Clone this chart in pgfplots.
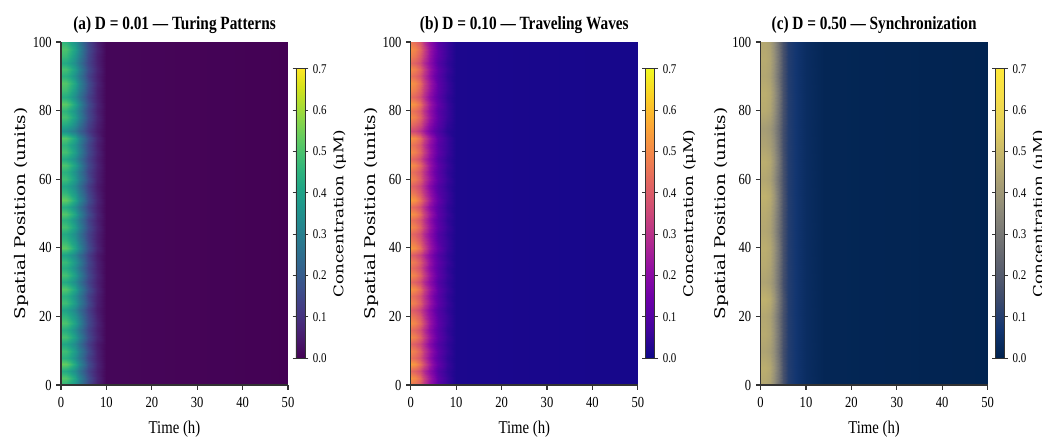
\documentclass[border=0pt]{standalone}
\usepackage{fontspec}
\setmainfont{Liberation Serif}[FakeStretch=0.82]
\newfontfamily\vlabel{DejaVu Serif}[FakeStretch=1.25]
\usepackage{pgfplots}
\pgfplotsset{compat=1.18}
\usepackage{pgfplotstable}

\pgfplotsset{
  colormap={plasma}{rgb255=(13,8,135) rgb255=(65,4,157) rgb255=(106,0,168) rgb255=(143,13,164)
    rgb255=(177,42,144) rgb255=(204,71,120) rgb255=(225,100,98) rgb255=(242,132,75)
    rgb255=(252,166,54) rgb255=(252,206,37) rgb255=(240,249,33)},
  colormap={cividis}{rgb255=(0,34,78) rgb255=(18,53,112) rgb255=(59,73,108) rgb255=(87,93,109)
    rgb255=(112,113,115) rgb255=(138,135,121) rgb255=(166,157,117) rgb255=(196,181,108)
    rgb255=(228,207,91) rgb255=(245,221,74) rgb255=(254,232,56)},
}

% panel (a): t y c, one scanline per y
\pgfplotstableread[row sep=\\]{
t y c\\
0 0 .46\\1 0 .45\\2 0 .41\\3 0 .36\\4 0 .29\\5 0 .21\\6 0 .15\\8 0 .06\\10 0 .01\\50 0 0\\
0 2 .52\\1 2 .51\\2 2 .47\\3 2 .41\\4 2 .32\\5 2 .24\\6 2 .17\\8 2 .07\\10 2 .01\\50 2 0\\
0 4 .43\\1 4 .42\\2 4 .39\\3 4 .34\\4 4 .27\\5 4 .20\\6 4 .14\\8 4 .06\\10 4 .01\\50 4 0\\
0 6 .54\\1 6 .53\\2 6 .49\\3 6 .42\\4 6 .33\\5 6 .25\\6 6 .17\\8 6 .07\\10 6 .01\\50 6 0\\
0 8 .45\\1 8 .44\\2 8 .41\\3 8 .35\\4 8 .28\\5 8 .21\\6 8 .14\\8 8 .06\\10 8 .01\\50 8 0\\
0 10 .49\\1 10 .48\\2 10 .44\\3 10 .38\\4 10 .30\\5 10 .23\\6 10 .16\\8 10 .06\\10 10 .01\\50 10 0\\
0 12 .42\\1 12 .41\\2 12 .38\\3 12 .33\\4 12 .26\\5 12 .19\\6 12 .13\\8 12 .05\\10 12 .01\\50 12 0\\
0 14 .50\\1 14 .49\\2 14 .45\\3 14 .39\\4 14 .31\\5 14 .23\\6 14 .16\\8 14 .07\\10 14 .01\\50 14 0\\
0 16 .44\\1 16 .43\\2 16 .40\\3 16 .34\\4 16 .27\\5 16 .20\\6 16 .14\\8 16 .06\\10 16 .01\\50 16 0\\
0 18 .51\\1 18 .50\\2 18 .46\\3 18 .40\\4 18 .32\\5 18 .23\\6 18 .16\\8 18 .07\\10 18 .01\\50 18 0\\
0 20 .46\\1 20 .45\\2 20 .41\\3 20 .36\\4 20 .29\\5 20 .21\\6 20 .15\\8 20 .06\\10 20 .01\\50 20 0\\
0 22 .41\\1 22 .40\\2 22 .37\\3 22 .32\\4 22 .25\\5 22 .19\\6 22 .13\\8 22 .05\\10 22 .01\\50 22 0\\
0 24 .49\\1 24 .48\\2 24 .44\\3 24 .38\\4 24 .30\\5 24 .23\\6 24 .16\\8 24 .06\\10 24 .01\\50 24 0\\
0 26 .45\\1 26 .44\\2 26 .41\\3 26 .35\\4 26 .28\\5 26 .21\\6 26 .14\\8 26 .06\\10 26 .01\\50 26 0\\
0 28 .52\\1 28 .51\\2 28 .47\\3 28 .41\\4 28 .32\\5 28 .24\\6 28 .17\\8 28 .07\\10 28 .01\\50 28 0\\
0 30 .43\\1 30 .42\\2 30 .39\\3 30 .34\\4 30 .27\\5 30 .20\\6 30 .14\\8 30 .06\\10 30 .01\\50 30 0\\
0 32 .50\\1 32 .49\\2 32 .45\\3 32 .39\\4 32 .31\\5 32 .23\\6 32 .16\\8 32 .07\\10 32 .01\\50 32 0\\
0 34 .44\\1 34 .43\\2 34 .40\\3 34 .34\\4 34 .27\\5 34 .20\\6 34 .14\\8 34 .06\\10 34 .01\\50 34 0\\
0 36 .48\\1 36 .47\\2 36 .43\\3 36 .37\\4 36 .30\\5 36 .22\\6 36 .15\\8 36 .06\\10 36 .01\\50 36 0\\
0 38 .41\\1 38 .40\\2 38 .37\\3 38 .32\\4 38 .25\\5 38 .19\\6 38 .13\\8 38 .05\\10 38 .01\\50 38 0\\
0 40 .53\\1 40 .52\\2 40 .48\\3 40 .41\\4 40 .33\\5 40 .24\\6 40 .17\\8 40 .07\\10 40 .01\\50 40 0\\
0 42 .47\\1 42 .46\\2 42 .42\\3 42 .37\\4 42 .29\\5 42 .22\\6 42 .15\\8 42 .06\\10 42 .01\\50 42 0\\
0 44 .43\\1 44 .42\\2 44 .39\\3 44 .34\\4 44 .27\\5 44 .20\\6 44 .14\\8 44 .06\\10 44 .01\\50 44 0\\
0 46 .50\\1 46 .49\\2 46 .45\\3 46 .39\\4 46 .31\\5 46 .23\\6 46 .16\\8 46 .07\\10 46 .01\\50 46 0\\
0 48 .45\\1 48 .44\\2 48 .41\\3 48 .35\\4 48 .28\\5 48 .21\\6 48 .14\\8 48 .06\\10 48 .01\\50 48 0\\
0 50 .52\\1 50 .51\\2 50 .47\\3 50 .41\\4 50 .32\\5 50 .24\\6 50 .17\\8 50 .07\\10 50 .01\\50 50 0\\
0 52 .44\\1 52 .43\\2 52 .40\\3 52 .34\\4 52 .27\\5 52 .20\\6 52 .14\\8 52 .06\\10 52 .01\\50 52 0\\
0 54 .54\\1 54 .53\\2 54 .49\\3 54 .42\\4 54 .33\\5 54 .25\\6 54 .17\\8 54 .07\\10 54 .01\\50 54 0\\
0 56 .47\\1 56 .46\\2 56 .42\\3 56 .37\\4 56 .29\\5 56 .22\\6 56 .15\\8 56 .06\\10 56 .01\\50 56 0\\
0 58 .42\\1 58 .41\\2 58 .38\\3 58 .33\\4 58 .26\\5 58 .19\\6 58 .13\\8 58 .05\\10 58 .01\\50 58 0\\
0 60 .49\\1 60 .48\\2 60 .44\\3 60 .38\\4 60 .30\\5 60 .23\\6 60 .16\\8 60 .06\\10 60 .01\\50 60 0\\
0 62 .45\\1 62 .44\\2 62 .41\\3 62 .35\\4 62 .28\\5 62 .21\\6 62 .14\\8 62 .06\\10 62 .01\\50 62 0\\
0 64 .51\\1 64 .50\\2 64 .46\\3 64 .40\\4 64 .32\\5 64 .23\\6 64 .16\\8 64 .07\\10 64 .01\\50 64 0\\
0 66 .43\\1 66 .42\\2 66 .39\\3 66 .34\\4 66 .27\\5 66 .20\\6 66 .14\\8 66 .06\\10 66 .01\\50 66 0\\
0 68 .50\\1 68 .49\\2 68 .45\\3 68 .39\\4 68 .31\\5 68 .23\\6 68 .16\\8 68 .07\\10 68 .01\\50 68 0\\
0 70 .46\\1 70 .45\\2 70 .41\\3 70 .36\\4 70 .29\\5 70 .21\\6 70 .15\\8 70 .06\\10 70 .01\\50 70 0\\
0 72 .52\\1 72 .51\\2 72 .47\\3 72 .41\\4 72 .32\\5 72 .24\\6 72 .17\\8 72 .07\\10 72 .01\\50 72 0\\
0 74 .36\\1 74 .35\\2 74 .32\\3 74 .28\\4 74 .22\\5 74 .17\\6 74 .12\\8 74 .05\\10 74 .01\\50 74 0\\
0 76 .44\\1 76 .43\\2 76 .40\\3 76 .34\\4 76 .27\\5 76 .20\\6 76 .14\\8 76 .06\\10 76 .01\\50 76 0\\
0 78 .50\\1 78 .49\\2 78 .45\\3 78 .39\\4 78 .31\\5 78 .23\\6 78 .16\\8 78 .07\\10 78 .01\\50 78 0\\
0 80 .46\\1 80 .45\\2 80 .41\\3 80 .36\\4 80 .29\\5 80 .21\\6 80 .15\\8 80 .06\\10 80 .01\\50 80 0\\
0 82 .53\\1 82 .52\\2 82 .48\\3 82 .41\\4 82 .33\\5 82 .24\\6 82 .17\\8 82 .07\\10 82 .01\\50 82 0\\
0 84 .44\\1 84 .43\\2 84 .40\\3 84 .34\\4 84 .27\\5 84 .20\\6 84 .14\\8 84 .06\\10 84 .01\\50 84 0\\
0 86 .49\\1 86 .48\\2 86 .44\\3 86 .38\\4 86 .30\\5 86 .23\\6 86 .16\\8 86 .06\\10 86 .01\\50 86 0\\
0 88 .52\\1 88 .51\\2 88 .47\\3 88 .41\\4 88 .32\\5 88 .24\\6 88 .17\\8 88 .07\\10 88 .01\\50 88 0\\
0 90 .45\\1 90 .44\\2 90 .41\\3 90 .35\\4 90 .28\\5 90 .21\\6 90 .14\\8 90 .06\\10 90 .01\\50 90 0\\
0 92 .50\\1 92 .49\\2 92 .45\\3 92 .39\\4 92 .31\\5 92 .23\\6 92 .16\\8 92 .07\\10 92 .01\\50 92 0\\
0 94 .43\\1 94 .42\\2 94 .39\\3 94 .34\\4 94 .27\\5 94 .20\\6 94 .14\\8 94 .06\\10 94 .01\\50 94 0\\
0 96 .48\\1 96 .47\\2 96 .43\\3 96 .37\\4 96 .30\\5 96 .22\\6 96 .15\\8 96 .06\\10 96 .01\\50 96 0\\
0 98 .51\\1 98 .50\\2 98 .46\\3 98 .40\\4 98 .32\\5 98 .23\\6 98 .16\\8 98 .07\\10 98 .01\\50 98 0\\
0 100 .46\\1 100 .45\\2 100 .41\\3 100 .36\\4 100 .29\\5 100 .21\\6 100 .15\\8 100 .06\\10 100 .01\\50 100 0\\
}\dataA

% panel (b)
\pgfplotstableread[row sep=\\]{
t y c\\
0 0 .46\\1 0 .44\\2 0 .39\\3 0 .30\\4 0 .22\\5 0 .16\\6 0 .11\\8 0 .06\\10 0 .02\\50 0 .012\\
0 2 .52\\1 2 .50\\2 2 .44\\3 2 .34\\4 2 .25\\5 2 .18\\6 2 .12\\8 2 .06\\10 2 .02\\50 2 .012\\
0 4 .43\\1 4 .41\\2 4 .36\\3 4 .28\\4 4 .21\\5 4 .15\\6 4 .10\\8 4 .05\\10 4 .02\\50 4 .012\\
0 6 .54\\1 6 .52\\2 6 .45\\3 6 .36\\4 6 .26\\5 6 .18\\6 6 .13\\8 6 .06\\10 6 .02\\50 6 .012\\
0 8 .45\\1 8 .43\\2 8 .38\\3 8 .30\\4 8 .22\\5 8 .15\\6 8 .11\\8 8 .05\\10 8 .02\\50 8 .012\\
0 10 .49\\1 10 .47\\2 10 .41\\3 10 .32\\4 10 .24\\5 10 .17\\6 10 .12\\8 10 .06\\10 10 .02\\50 10 .012\\
0 12 .42\\1 12 .40\\2 12 .35\\3 12 .28\\4 12 .20\\5 12 .14\\6 12 .10\\8 12 .05\\10 12 .02\\50 12 .012\\
0 14 .50\\1 14 .48\\2 14 .42\\3 14 .33\\4 14 .24\\5 14 .17\\6 14 .12\\8 14 .06\\10 14 .02\\50 14 .012\\
0 16 .44\\1 16 .42\\2 16 .37\\3 16 .29\\4 16 .21\\5 16 .15\\6 16 .11\\8 16 .05\\10 16 .02\\50 16 .012\\
0 18 .51\\1 18 .49\\2 18 .43\\3 18 .34\\4 18 .24\\5 18 .17\\6 18 .12\\8 18 .06\\10 18 .02\\50 18 .012\\
0 20 .46\\1 20 .44\\2 20 .39\\3 20 .30\\4 20 .22\\5 20 .16\\6 20 .11\\8 20 .06\\10 20 .02\\50 20 .012\\
0 22 .41\\1 22 .39\\2 22 .34\\3 22 .27\\4 22 .20\\5 22 .14\\6 22 .10\\8 22 .05\\10 22 .02\\50 22 .012\\
0 24 .49\\1 24 .47\\2 24 .41\\3 24 .32\\4 24 .24\\5 24 .17\\6 24 .12\\8 24 .06\\10 24 .02\\50 24 .012\\
0 26 .45\\1 26 .43\\2 26 .38\\3 26 .30\\4 26 .22\\5 26 .15\\6 26 .11\\8 26 .05\\10 26 .02\\50 26 .012\\
0 28 .52\\1 28 .50\\2 28 .44\\3 28 .34\\4 28 .25\\5 28 .18\\6 28 .12\\8 28 .06\\10 28 .02\\50 28 .012\\
0 30 .43\\1 30 .41\\2 30 .36\\3 30 .28\\4 30 .21\\5 30 .15\\6 30 .10\\8 30 .05\\10 30 .02\\50 30 .012\\
0 32 .50\\1 32 .48\\2 32 .42\\3 32 .33\\4 32 .24\\5 32 .17\\6 32 .12\\8 32 .06\\10 32 .02\\50 32 .012\\
0 34 .44\\1 34 .42\\2 34 .37\\3 34 .29\\4 34 .21\\5 34 .15\\6 34 .11\\8 34 .05\\10 34 .02\\50 34 .012\\
0 36 .48\\1 36 .46\\2 36 .40\\3 36 .32\\4 36 .23\\5 36 .16\\6 36 .12\\8 36 .06\\10 36 .02\\50 36 .012\\
0 38 .41\\1 38 .39\\2 38 .34\\3 38 .27\\4 38 .20\\5 38 .14\\6 38 .10\\8 38 .05\\10 38 .02\\50 38 .012\\
0 40 .53\\1 40 .51\\2 40 .45\\3 40 .35\\4 40 .25\\5 40 .18\\6 40 .13\\8 40 .06\\10 40 .02\\50 40 .012\\
0 42 .47\\1 42 .45\\2 42 .39\\3 42 .31\\4 42 .23\\5 42 .16\\6 42 .11\\8 42 .06\\10 42 .02\\50 42 .012\\
0 44 .43\\1 44 .41\\2 44 .36\\3 44 .28\\4 44 .21\\5 44 .15\\6 44 .10\\8 44 .05\\10 44 .02\\50 44 .012\\
0 46 .50\\1 46 .48\\2 46 .42\\3 46 .33\\4 46 .24\\5 46 .17\\6 46 .12\\8 46 .06\\10 46 .02\\50 46 .012\\
0 48 .45\\1 48 .43\\2 48 .38\\3 48 .30\\4 48 .22\\5 48 .15\\6 48 .11\\8 48 .05\\10 48 .02\\50 48 .012\\
0 50 .52\\1 50 .50\\2 50 .44\\3 50 .34\\4 50 .25\\5 50 .18\\6 50 .12\\8 50 .06\\10 50 .02\\50 50 .012\\
0 52 .44\\1 52 .42\\2 52 .37\\3 52 .29\\4 52 .21\\5 52 .15\\6 52 .11\\8 52 .05\\10 52 .02\\50 52 .012\\
0 54 .54\\1 54 .52\\2 54 .45\\3 54 .36\\4 54 .26\\5 54 .18\\6 54 .13\\8 54 .06\\10 54 .02\\50 54 .012\\
0 56 .47\\1 56 .45\\2 56 .39\\3 56 .31\\4 56 .23\\5 56 .16\\6 56 .11\\8 56 .06\\10 56 .02\\50 56 .012\\
0 58 .42\\1 58 .40\\2 58 .35\\3 58 .28\\4 58 .20\\5 58 .14\\6 58 .10\\8 58 .05\\10 58 .02\\50 58 .012\\
0 60 .49\\1 60 .47\\2 60 .41\\3 60 .32\\4 60 .24\\5 60 .17\\6 60 .12\\8 60 .06\\10 60 .02\\50 60 .012\\
0 62 .45\\1 62 .43\\2 62 .38\\3 62 .30\\4 62 .22\\5 62 .15\\6 62 .11\\8 62 .05\\10 62 .02\\50 62 .012\\
0 64 .51\\1 64 .49\\2 64 .43\\3 64 .34\\4 64 .24\\5 64 .17\\6 64 .12\\8 64 .06\\10 64 .02\\50 64 .012\\
0 66 .43\\1 66 .41\\2 66 .36\\3 66 .28\\4 66 .21\\5 66 .15\\6 66 .10\\8 66 .05\\10 66 .02\\50 66 .012\\
0 68 .50\\1 68 .48\\2 68 .42\\3 68 .33\\4 68 .24\\5 68 .17\\6 68 .12\\8 68 .06\\10 68 .02\\50 68 .012\\
0 70 .46\\1 70 .44\\2 70 .39\\3 70 .30\\4 70 .22\\5 70 .16\\6 70 .11\\8 70 .06\\10 70 .02\\50 70 .012\\
0 72 .52\\1 72 .50\\2 72 .44\\3 72 .34\\4 72 .25\\5 72 .18\\6 72 .12\\8 72 .06\\10 72 .02\\50 72 .012\\
0 74 .36\\1 74 .35\\2 74 .30\\3 74 .24\\4 74 .17\\5 74 .12\\6 74 .09\\8 74 .04\\10 74 .02\\50 74 .012\\
0 76 .44\\1 76 .42\\2 76 .37\\3 76 .29\\4 76 .21\\5 76 .15\\6 76 .11\\8 76 .05\\10 76 .02\\50 76 .012\\
0 78 .50\\1 78 .48\\2 78 .42\\3 78 .33\\4 78 .24\\5 78 .17\\6 78 .12\\8 78 .06\\10 78 .02\\50 78 .012\\
0 80 .46\\1 80 .44\\2 80 .39\\3 80 .30\\4 80 .22\\5 80 .16\\6 80 .11\\8 80 .06\\10 80 .02\\50 80 .012\\
0 82 .53\\1 82 .51\\2 82 .45\\3 82 .35\\4 82 .25\\5 82 .18\\6 82 .13\\8 82 .06\\10 82 .02\\50 82 .012\\
0 84 .44\\1 84 .42\\2 84 .37\\3 84 .29\\4 84 .21\\5 84 .15\\6 84 .11\\8 84 .05\\10 84 .02\\50 84 .012\\
0 86 .49\\1 86 .47\\2 86 .41\\3 86 .32\\4 86 .24\\5 86 .17\\6 86 .12\\8 86 .06\\10 86 .02\\50 86 .012\\
0 88 .52\\1 88 .50\\2 88 .44\\3 88 .34\\4 88 .25\\5 88 .18\\6 88 .12\\8 88 .06\\10 88 .02\\50 88 .012\\
0 90 .45\\1 90 .43\\2 90 .38\\3 90 .30\\4 90 .22\\5 90 .15\\6 90 .11\\8 90 .05\\10 90 .02\\50 90 .012\\
0 92 .50\\1 92 .48\\2 92 .42\\3 92 .33\\4 92 .24\\5 92 .17\\6 92 .12\\8 92 .06\\10 92 .02\\50 92 .012\\
0 94 .43\\1 94 .41\\2 94 .36\\3 94 .28\\4 94 .21\\5 94 .15\\6 94 .10\\8 94 .05\\10 94 .02\\50 94 .012\\
0 96 .48\\1 96 .46\\2 96 .40\\3 96 .32\\4 96 .23\\5 96 .16\\6 96 .12\\8 96 .06\\10 96 .02\\50 96 .012\\
0 98 .51\\1 98 .49\\2 98 .43\\3 98 .34\\4 98 .24\\5 98 .17\\6 98 .12\\8 98 .06\\10 98 .02\\50 98 .012\\
0 100 .46\\1 100 .44\\2 100 .39\\3 100 .30\\4 100 .22\\5 100 .16\\6 100 .11\\8 100 .06\\10 100 .02\\50 100 .012\\
}\dataB

% panel (c)
\pgfplotstableread[row sep=\\]{
t y c\\
0 0 .45\\1 0 .45\\2 0 .43\\3 0 .37\\4 0 .27\\5 0 .17\\6 0 .10\\8 0 .065\\10 0 .04\\14 0 .015\\50 0 .005\\
0 5 .47\\1 5 .47\\2 5 .45\\3 5 .39\\4 5 .29\\5 5 .17\\6 5 .10\\8 5 .065\\10 5 .04\\14 5 .015\\50 5 .005\\
0 10 .44\\1 10 .44\\2 10 .42\\3 10 .37\\4 10 .27\\5 10 .16\\6 10 .10\\8 10 .065\\10 10 .04\\14 10 .015\\50 10 .005\\
0 15 .46\\1 15 .46\\2 15 .44\\3 15 .38\\4 15 .28\\5 15 .17\\6 15 .10\\8 15 .065\\10 15 .04\\14 15 .015\\50 15 .005\\
0 20 .45\\1 20 .45\\2 20 .43\\3 20 .37\\4 20 .27\\5 20 .17\\6 20 .10\\8 20 .065\\10 20 .04\\14 20 .015\\50 20 .005\\
0 25 .48\\1 25 .48\\2 25 .46\\3 25 .40\\4 25 .29\\5 25 .18\\6 25 .10\\8 25 .065\\10 25 .04\\14 25 .015\\50 25 .005\\
0 30 .44\\1 30 .44\\2 30 .42\\3 30 .37\\4 30 .27\\5 30 .16\\6 30 .10\\8 30 .065\\10 30 .04\\14 30 .015\\50 30 .005\\
0 35 .46\\1 35 .46\\2 35 .44\\3 35 .38\\4 35 .28\\5 35 .17\\6 35 .10\\8 35 .065\\10 35 .04\\14 35 .015\\50 35 .005\\
0 40 .47\\1 40 .47\\2 40 .45\\3 40 .39\\4 40 .29\\5 40 .17\\6 40 .10\\8 40 .065\\10 40 .04\\14 40 .015\\50 40 .005\\
0 45 .45\\1 45 .45\\2 45 .43\\3 45 .37\\4 45 .27\\5 45 .17\\6 45 .10\\8 45 .065\\10 45 .04\\14 45 .015\\50 45 .005\\
0 50 .46\\1 50 .46\\2 50 .44\\3 50 .38\\4 50 .28\\5 50 .17\\6 50 .10\\8 50 .065\\10 50 .04\\14 50 .015\\50 50 .005\\
0 55 .48\\1 55 .48\\2 55 .46\\3 55 .40\\4 55 .29\\5 55 .18\\6 55 .10\\8 55 .065\\10 55 .04\\14 55 .015\\50 55 .005\\
0 60 .45\\1 60 .45\\2 60 .43\\3 60 .37\\4 60 .27\\5 60 .17\\6 60 .10\\8 60 .065\\10 60 .04\\14 60 .015\\50 60 .005\\
0 65 .47\\1 65 .47\\2 65 .45\\3 65 .39\\4 65 .29\\5 65 .17\\6 65 .10\\8 65 .065\\10 65 .04\\14 65 .015\\50 65 .005\\
0 70 .44\\1 70 .44\\2 70 .42\\3 70 .37\\4 70 .27\\5 70 .16\\6 70 .10\\8 70 .065\\10 70 .04\\14 70 .015\\50 70 .005\\
0 75 .42\\1 75 .42\\2 75 .40\\3 75 .35\\4 75 .26\\5 75 .16\\6 75 .10\\8 75 .065\\10 75 .04\\14 75 .015\\50 75 .005\\
0 80 .46\\1 80 .46\\2 80 .44\\3 80 .38\\4 80 .28\\5 80 .17\\6 80 .10\\8 80 .065\\10 80 .04\\14 80 .015\\50 80 .005\\
0 85 .47\\1 85 .47\\2 85 .45\\3 85 .39\\4 85 .29\\5 85 .17\\6 85 .10\\8 85 .065\\10 85 .04\\14 85 .015\\50 85 .005\\
0 90 .45\\1 90 .45\\2 90 .43\\3 90 .37\\4 90 .27\\5 90 .17\\6 90 .10\\8 90 .065\\10 90 .04\\14 90 .015\\50 90 .005\\
0 95 .46\\1 95 .46\\2 95 .44\\3 95 .38\\4 95 .28\\5 95 .17\\6 95 .10\\8 95 .065\\10 95 .04\\14 95 .015\\50 95 .005\\
0 100 .45\\1 100 .45\\2 100 .43\\3 100 .37\\4 100 .27\\5 100 .17\\6 100 .10\\8 100 .065\\10 100 .04\\14 100 .015\\50 100 .005\\
}\dataC

\pgfplotsset{
  heat/.style={
    width=170.25pt, height=257.25pt, scale only axis,
    xmin=0, xmax=50, ymin=0, ymax=100,
    xtick={0,10,...,50}, ytick={0,20,...,100},
    axis x line*=bottom, axis y line*=left,
    axis line style={line width=0.8pt, black!80},
    tick align=outside, major tick length=3.5pt,
    tick style={black!80, line width=0.8pt},
    tick label style={font=\fontsize{11.5}{12}\selectfont},
    xticklabel style={yshift=-2pt},
    /pgf/number format/assume math mode=true,
    xlabel={Time (h)},
    ylabel={Spatial Position (units)},
    xlabel style={font=\fontsize{13.5}{15}\selectfont, yshift=-3pt},
    ylabel style={font=\vlabel\fontsize{11}{13}\selectfont, yshift=-4pt},
    title style={font=\fontsize{14}{16}\selectfont\bfseries, yshift=-3pt},
    point meta min=0, point meta max=0.7,
    axis on top,
    colorbar,
    colorbar style={
      at={(1.035,0.5)}, anchor=west,
      width=6.75pt, height=217pt,
      ytick={0,0.1,0.2,0.3,0.4,0.5,0.6,0.7},
      tick align=outside, major tick length=2.5pt,
      tick style={black!80, line width=0.6pt},
      axis line style={line width=0.6pt, black!80},
      yticklabel style={font=\fontsize{10}{11}\selectfont,
        /pgf/number format/.cd, fixed, fixed zerofill, precision=1, assume math mode=true},
      ylabel={Concentration (μM)},
      ylabel style={font=\vlabel\fontsize{10}{12}\selectfont, yshift=2pt},
    },
  },
}

\begin{document}
\begin{tikzpicture}
\begin{axis}[heat, colormap name=viridis, title={(a) D = 0.01 — Turing Patterns}]
  \addplot[surf, shader=interp, mesh/cols=10, point meta=explicit]
    table[x=t, y=y, meta=c] {\dataA};
\end{axis}

\begin{axis}[heat, at={(262.35pt,0)}, colormap name=plasma, title={(b) D = 0.10 — Traveling Waves}]
  \addplot[surf, shader=interp, mesh/cols=10, point meta=explicit]
    table[x=t, y=y, meta=c] {\dataB};
\end{axis}

\begin{axis}[heat, at={(524.7pt,0)}, colormap name=cividis, title={(c) D = 0.50 — Synchronization}]
  \addplot[surf, shader=interp, mesh/cols=11, point meta=explicit]
    table[x=t, y=y, meta=c] {\dataC};
\end{axis}

\pgfresetboundingbox
\path[use as bounding box] (-45.75pt,-39pt) rectangle (735.75pt,288.75pt);
\end{tikzpicture}
\end{document}
